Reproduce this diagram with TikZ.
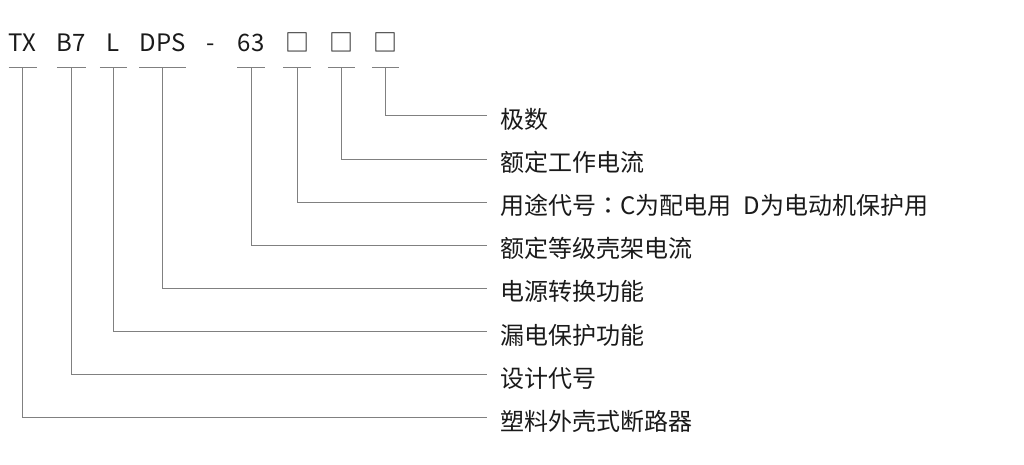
\documentclass[tikz,border=0pt]{standalone}
\usepackage{fontspec}
\setmainfont{Noto Sans CJK SC}
\newfontfamily\tcfont{Noto Sans CJK TC}
\usetikzlibrary{positioning}
\definecolor{leadgray}{HTML}{808080}
\definecolor{ink}{HTML}{1A1A1A}

\begin{document}
\begin{tikzpicture}[x=1pt,y=1pt,font=\fontsize{24}{28}\selectfont,
    code/.style={inner sep=0pt,minimum width=27pt,text depth=0pt,anchor=base,text=ink},
    part/.style={anchor=west,inner xsep=13pt,inner ysep=0pt,text height=27pt,text depth=2pt,minimum height=42.7pt,text=ink},
    lead/.style={draw=leadgray,line width=1pt}]
    \useasboundingbox (0,0) rectangle (1024,-465);
    \begin{scope}[every node/.style=code]
      \node at (22.5,-52) (tx) {TX};
      \node at (71.5,-52) (b7) {B7};
      \node at (113.5,-52) (l) {L};
      \node at (162.5,-52) (dps) {DPS};
      \node at (211,-52) (dash) {-};
      \node at (251,-52) (i63) {63};
      \node at (297,-52) (p1) {□};
      \node at (341.5,-52) (p2) {□};
      \node at (385.5,-52) (p3) {□};
    \end{scope}
    \foreach \c in {tx,b7,l,dps,i63,p1,p2,p3}
      \draw [lead] ([yshift=-15.7pt]\c.south west) -- ([yshift=-15.7pt]\c.south east);

    \node [part] at (487,-116) (poles) {极数};
    \node [part, below=0pt of poles.south west, anchor=north west] (current) {额定工作电流};
    \node [part, below=0pt of current.south west, anchor=north west] (usage) {用途代号{\tcfont ：}C为配电用\hspace{12pt}D为电动机保护用};
    \node [part, below=0pt of usage.south west, anchor=north west] (frame) {额定等级壳架电流};
    \node [part, below=0pt of frame.south west, anchor=north west] (switch) {电源转换功能};
    \node [part, below=0pt of switch.south west, anchor=north west] (leakage) {漏电保护功能};
    \node [part, below=0pt of leakage.south west, anchor=north west] (design) {设计代号};
    \node [part, below=0pt of design.south west, anchor=north west] (breaker) {塑料外壳式断路器};

    \draw [lead] ([yshift=-15.7pt]p3.south) |- (poles.west);
    \draw [lead] ([yshift=-15.7pt]p2.south) |- (current.west);
    \draw [lead] ([yshift=-15.7pt]p1.south) |- (usage.west);
    \draw [lead] ([yshift=-15.7pt]i63.south) |- (frame.west);
    \draw [lead] ([yshift=-15.7pt]dps.south) |- (switch.west);
    \draw [lead] ([yshift=-15.7pt]l.south) |- (leakage.west);
    \draw [lead] ([yshift=-15.7pt]b7.south) |- (design.west);
    \draw [lead] ([yshift=-15.7pt]tx.south) |- (breaker.west);
  \end{tikzpicture}
\end{document}
